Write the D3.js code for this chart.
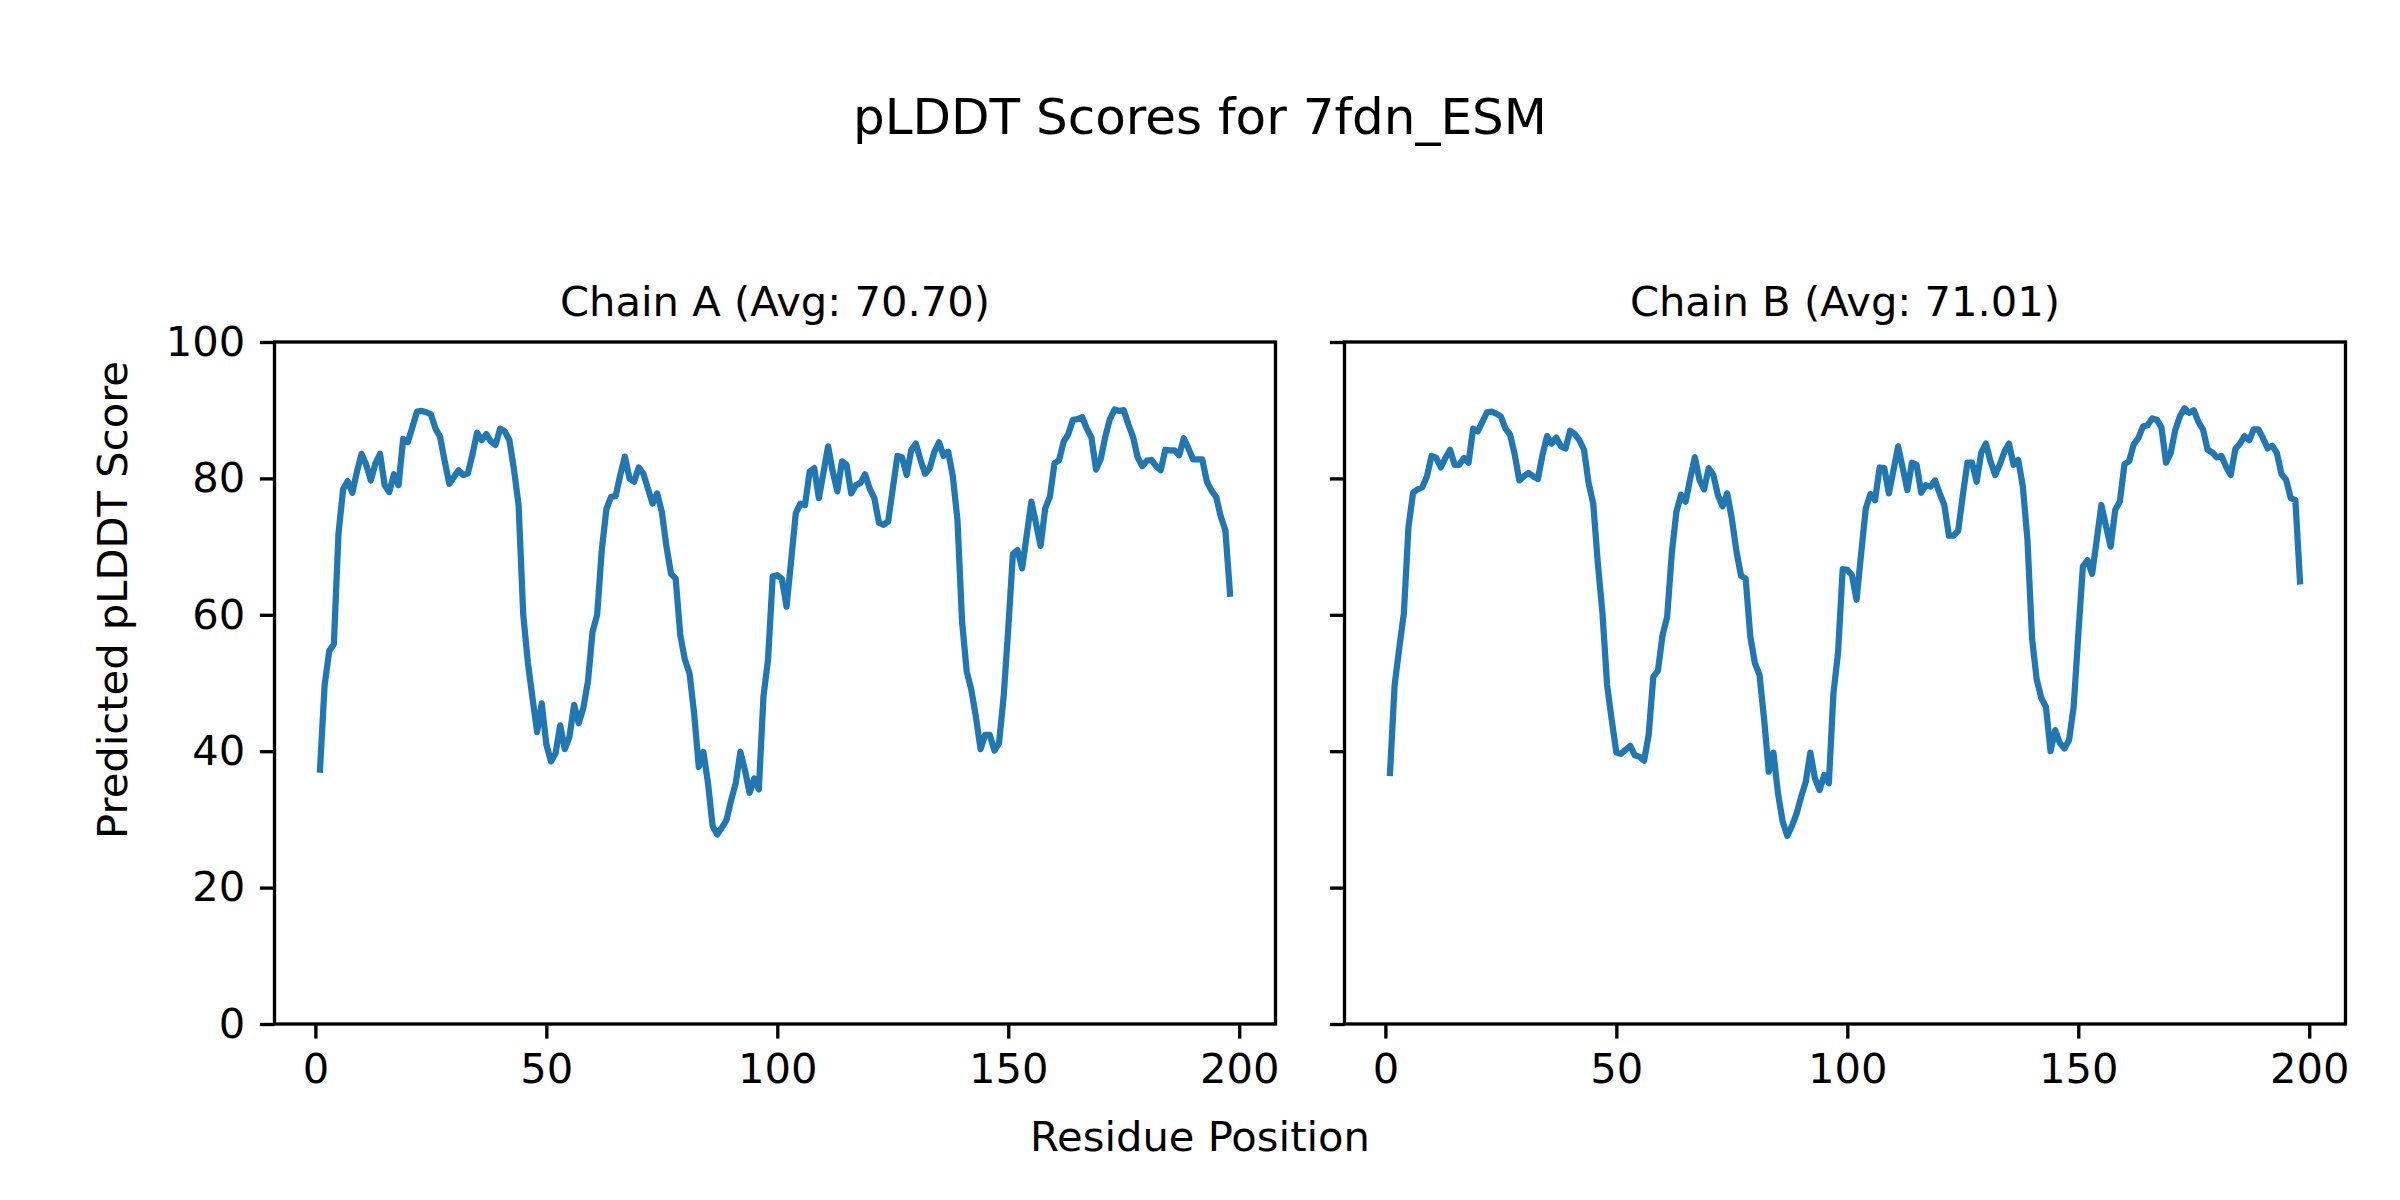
<html>
<head>
  <title>pLDDT Scores for 7fdn_ESM</title>
  <script src="https://d3js.org/d3.v7.min.js"></script>
  <style>
    body { margin: 0; background: white; }
    text { font-family: "DejaVu Sans", sans-serif; fill: black; }
    .spine { fill: none; stroke: black; stroke-width: 3.33px; }
    .plddt { fill: none; stroke: #1f77b4; stroke-width: 6.25px; stroke-linejoin: round; stroke-linecap: square; }
  </style>
</head>
<body>
  <svg id="screen"></svg>

  <script>
    // residue numbers along the x axis (1..198)
    const residues = d3.range(1, 199)

    // pLDDT per residue
    const chainA = [
      37.3, 49.7, 54.7, 55.7, 71.9, 78.4, 79.6, 77.9, 81.0, 83.6,
      82.0, 79.7, 82.2, 83.6, 79.0, 78.0, 80.6, 79.0, 85.8, 85.3,
      87.5, 89.8, 89.9, 89.7, 89.4, 87.3, 86.1, 82.5, 79.2, 80.2,
      81.2, 80.5, 80.7, 83.5, 86.7, 85.6, 86.5, 85.4, 84.9, 87.3,
      86.9, 85.6, 81.3, 76.0, 60.0, 53.0, 47.8, 42.8, 47.0, 41.0,
      38.5, 39.7, 43.8, 40.3, 42.1, 46.8, 44.1, 46.3, 50.2, 57.5,
      60.0, 69.5, 75.5, 77.3, 77.4, 80.5, 83.2, 80.0, 79.5, 81.6,
      80.7, 78.5, 76.3, 77.8, 75.1, 70.0, 66.0, 65.3, 57.0, 53.4,
      51.4, 45.5, 37.7, 39.9, 35.3, 29.0, 27.8, 28.8, 29.9, 32.8,
      35.3, 39.9, 37.2, 33.9, 36.0, 34.4, 48.0, 53.5, 65.6, 65.8,
      65.3, 61.2, 68.0, 74.9, 76.3, 76.1, 81.0, 81.5, 77.1, 80.9,
      84.7, 81.0, 78.1, 82.5, 82.0, 77.8, 79.0, 79.3, 80.6, 78.5,
      77.1, 73.5, 73.2, 73.7, 78.5, 83.3, 83.1, 80.5, 84.2, 85.1,
      82.7, 80.7, 81.5, 83.9, 85.3, 83.3, 83.9, 80.3, 73.9, 59.0,
      51.7, 49.0, 45.0, 40.3, 42.4, 42.4, 40.1, 41.2, 48.0, 58.0,
      68.9, 69.5, 66.8, 71.7, 76.6, 73.4, 70.1, 75.6, 77.3, 82.2,
      82.7, 85.4, 86.5, 88.6, 88.7, 89.0, 87.3, 86.0, 81.3, 82.8,
      86.1, 88.7, 90.1, 89.9, 90.0, 87.9, 86.1, 83.1, 81.8, 82.6,
      82.7, 81.8, 81.2, 84.2, 84.1, 84.1, 83.4, 85.9, 84.4, 82.8,
      82.8, 82.8, 79.5, 78.2, 77.3, 74.4, 72.4, 63.1
    ]

    const chainB = [
      36.8, 49.7, 55.1, 60.2, 72.9, 77.9, 78.4, 78.7, 80.3, 83.3,
      83.0, 81.6, 83.0, 84.2, 82.0, 82.0, 83.0, 82.3, 87.3, 86.9,
      88.3, 89.7, 89.8, 89.5, 89.1, 87.3, 86.4, 83.5, 79.7, 80.3,
      80.8, 80.3, 79.9, 83.4, 86.2, 85.1, 86.0, 84.7, 84.4, 87.0,
      86.5, 85.6, 84.2, 79.3, 76.3, 67.5, 60.2, 49.7, 44.6, 39.8,
      39.6, 40.2, 40.8, 39.4, 39.2, 38.6, 42.4, 50.9, 51.8, 57.0,
      59.7, 69.0, 75.1, 77.6, 76.6, 80.0, 83.1, 79.8, 78.4, 81.5,
      80.5, 77.5, 75.9, 77.8, 74.1, 69.3, 65.7, 65.3, 56.8, 52.9,
      51.2, 44.6, 37.0, 39.8, 33.8, 29.7, 27.6, 29.0, 30.8, 33.3,
      35.5, 39.8, 36.0, 34.3, 36.5, 35.3, 48.5, 54.5, 66.7, 66.6,
      65.8, 62.2, 69.0, 75.6, 77.7, 76.8, 81.6, 81.5, 77.8, 81.2,
      84.7, 81.5, 78.3, 82.3, 82.0, 77.9, 79.0, 78.8, 79.7, 77.8,
      76.1, 71.6, 71.6, 72.3, 77.5, 82.3, 82.3, 79.5, 83.8, 85.1,
      82.5, 80.5, 82.0, 83.9, 85.1, 82.0, 82.7, 78.8, 71.0, 56.5,
      50.5, 47.8, 46.5, 40.0, 43.1, 41.2, 40.4, 41.6, 46.5, 57.0,
      67.1, 68.0, 66.0, 71.0, 76.1, 73.0, 70.0, 75.4, 76.6, 82.1,
      82.5, 85.0, 85.9, 87.6, 87.8, 88.8, 88.6, 87.5, 82.3, 83.7,
      87.1, 89.1, 90.3, 89.6, 90.0, 88.3, 87.2, 84.2, 83.8, 83.1,
      83.3, 81.7, 80.5, 84.3, 85.1, 86.2, 85.6, 87.2, 87.2, 85.9,
      84.4, 84.8, 83.7, 80.6, 79.8, 77.1, 76.8, 64.9
    ]

    const chainTitles = ['Chain A (Avg: 70.70)', 'Chain B (Avg: 71.01)']
    const xTicks = [0, 50, 100, 150, 200]
    const yTicks = [0, 20, 40, 60, 80, 100]

    let svg = {width: 2400, height: 1200}
    let frame = d3.select('#screen')
      .attr('width', svg.width)
      .attr('height', svg.height)

    // two panels side by side, same size
    let panelLeft = [274.5, 1344.5]
    let panelTop = 342, pw = 1001, ph = 682
    let fs = 41.67 // 10pt at 300 dpi

    // x gets matplotlib's 5% margin around 1..198
    let pad = (d3.max(residues) - d3.min(residues)) * 0.05
    let x = d3.scaleLinear()
      .domain([d3.min(residues) - pad, d3.max(residues) + pad])
      .range([0, pw])
    let y = d3.scaleLinear().domain([0, 100]).range([ph, 0])

    let line = d3.line()
      .x((d, i) => x(residues[i]))
      .y(d => y(d))

    let series = [chainA, chainB]

    series.forEach(function(vals, k) {
      let g = frame.append('g')
        .attr('transform', `translate(${panelLeft[k]},${panelTop})`)

      g.append('path')
        .attr('class', 'plddt')
        .attr('d', line(vals))

      // x axis
      let xa = g.append('g')
        .attr('transform', `translate(0,${ph})`)
        .call(d3.axisBottom(x).tickValues(xTicks).tickFormat(d3.format('d'))
          .tickSize(14.6).tickPadding(14.6).tickSizeOuter(0))
      xa.select('.domain').remove()
      xa.selectAll('line').attr('stroke-width', 3.33)
      xa.selectAll('text').attr('font-size', fs).attr('font-family', 'DejaVu Sans')

      // y axis, labels only on the first panel (shared y)
      let ya = g.append('g')
        .call(d3.axisLeft(y).tickValues(yTicks)
          .tickFormat(k == 0 ? d3.format('d') : '')
          .tickSize(14.6).tickPadding(14.6).tickSizeOuter(0))
      ya.select('.domain').remove()
      ya.selectAll('line').attr('stroke-width', 3.33)
      ya.selectAll('text').attr('font-size', fs).attr('font-family', 'DejaVu Sans')

      // box round the panel
      g.append('rect')
        .attr('class', 'spine')
        .attr('width', pw)
        .attr('height', ph)

      g.append('text')
        .attr('x', pw / 2)
        .attr('y', -26)
        .attr('text-anchor', 'middle')
        .attr('font-size', fs)
        .text(chainTitles[k])
    })

    // figure level texts
    frame.append('text')
      .attr('x', 1200)
      .attr('y', 134)
      .attr('text-anchor', 'middle')
      .attr('font-size', 50)
      .text('pLDDT Scores for 7fdn_ESM')

    frame.append('text')
      .attr('x', 1200)
      .attr('y', 1151)
      .attr('text-anchor', 'middle')
      .attr('font-size', fs)
      .text('Residue Position')

    frame.append('text')
      .attr('transform', 'translate(127,600) rotate(-90)')
      .attr('text-anchor', 'middle')
      .attr('font-size', fs)
      .text('Predicted pLDDT Score')
  </script>
</body>
</html>
